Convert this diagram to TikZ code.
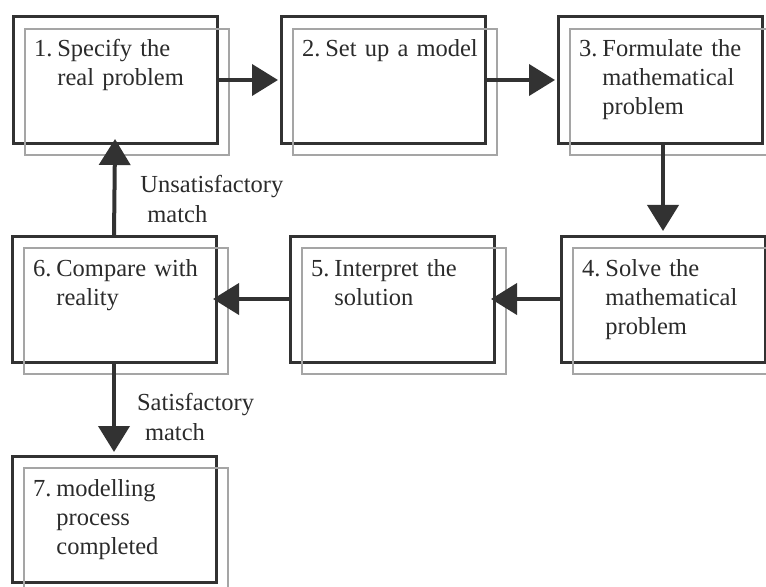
\documentclass[tikz,border=0pt]{standalone}
\usepackage{fontspec}
\setmainfont{Liberation Serif}
\usetikzlibrary{calc,arrows.meta}
\definecolor{box-dark}{RGB}{50, 50, 50}
\definecolor{box-grey}{RGB}{165, 165, 165}
\newcommand{\steptext}[2]{\hspace*{21bp}\begin{tabular}[t]{@{}l@{\hspace{5bp}}l@{}}#1.&#2\end{tabular}}

\begin{document}
\begin{tikzpicture}[x=1bp,y=-1bp,
	stepbox/.style={draw=box-dark, line width=3bp, inner sep=0pt, outer sep=0pt,
		text width=204bp, text height=40bp, text depth=86bp, anchor=north west,
		text=box-dark!85!black, font=\fontsize{24.5bp}{29bp}\selectfont},
	backbox/.style={draw=box-grey, line width=1.5bp},
	flow/.style={draw=box-dark, line width=4bp, -{Triangle[length=26bp,width=31bp]}},
	note/.style={text=box-dark!85!black, align=left, inner sep=0pt, anchor=west,
		font=\fontsize{24.5bp}{30bp}\selectfont}]
\clip (0,0) rectangle (766,587);
% the seven steps
\node [stepbox] (b1) at (13,17) {\steptext{1}{Specify the\\ & real problem}};
\node [stepbox] (b2) at (281,17) {\steptext{2}{Set up a model}};
\node [stepbox] (b3) at (558,17) {\steptext{3}{Formulate the\\ & mathematical\\ & problem}};
\node [stepbox] (b4) at (561,236) {\steptext{4}{Solve the\\ & mathematical\\ & problem}};
\node [stepbox] (b5) at (290,236) {\steptext{5}{Interpret the\\ & solution}};
\node [stepbox] (b6) at (12,236) {\steptext{6}{Compare with\\ & reality}};
\node [stepbox] (b7) at (12,456) {\steptext{7}{modelling\\ & process\\ & completed}};
% grey copies behind
\foreach \n in {b1,b2,b3,b4,b5,b6,b7}
	\draw [backbox] ($(\n.north west)+(12,12)$) rectangle ($(\n.south east)+(12,12)$);
% arrows
\draw [flow, shorten >=3bp] (b1) -- (b2);
\draw [flow, shorten >=3bp] (b2) -- (b3);
\draw [flow, shorten >=5bp] (b4.north |- b3.south) -- (b4.north);
\draw [flow, shorten >=-3bp] (b4) -- (b5);
\draw [flow, shorten >=-3bp] (b5) -- (b6);
\draw [flow, shorten >=-4bp] (b6.north) -- (b1.south)
	node [note, pos=0.4, xshift=24bp] (unsat) {Unsatisfactory\\\hspace*{7bp}match};
\draw [flow, shorten >=4bp] (b6.south) -- (b7.north)
	node [note, pos=0.58, xshift=21bp] (sat) {Satisfactory\\\hspace*{8bp}match};
\end{tikzpicture}
\end{document}
